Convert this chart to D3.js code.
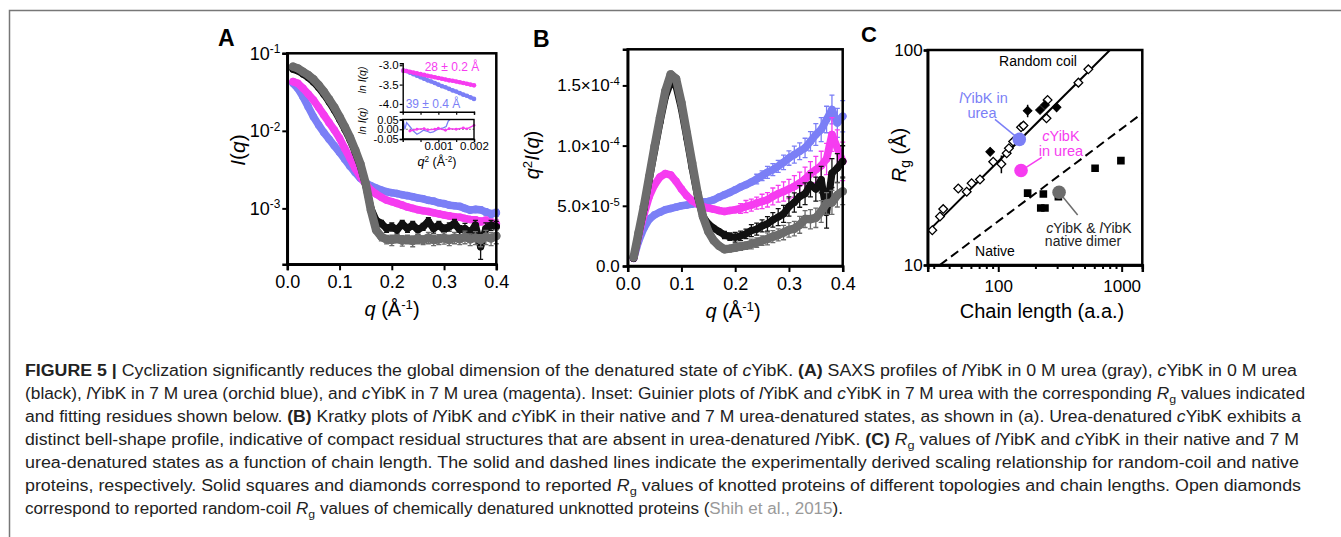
<!DOCTYPE html>
<html><head><meta charset="utf-8">
<script src="https://cdn.jsdelivr.net/npm/d3@7"></script>
<style>
html,body{margin:0;padding:0;background:#fff;}
svg{display:block;}
text{white-space:pre;}
</style></head><body>
<svg id="fig" width="1341" height="537"></svg>
<script>
// ---------------- DATA ----------------
const q = [0.011,0.02,0.03,0.04,0.05,0.06,0.07,0.08,0.09,0.10,
           0.11,0.12,0.13,0.14,0.15,0.16,0.17,0.18,0.19,0.20,
           0.21,0.22,0.23,0.24,0.25,0.26,0.27,0.28,0.29,0.30,
           0.31,0.32,0.33,0.34,0.35,0.36,0.37,0.38,0.39,0.40];

// Panel A: I(q)
const saxsGray = [0.0673,0.0640,0.0579,0.0525,0.0462,0.0390,0.0320,0.0255,0.0201,0.0152,
  0.0113,0.00824,0.00566,0.00373,0.00210,0.00095,0.000525,0.000430,0.000398,0.000390,
  0.000410,0.000385,0.000400,0.000380,0.000410,0.000390,0.000420,0.000390,0.000400,0.000415,
  0.000390,0.000420,0.000400,0.000430,0.000400,0.000420,0.000390,0.000430,0.000410,0.000440];
const saxsBlack = [0.0622,0.0595,0.0540,0.0488,0.0428,0.0362,0.0297,0.0237,0.0186,0.0141,
  0.0105,0.0077,0.0053,0.0035,0.0020,0.00100,0.00070,0.00064,0.00055,0.00058,
  0.00053,0.00063,0.00055,0.00061,0.00053,0.00058,0.00068,0.00055,0.00061,0.00053,
  0.00058,0.00064,0.00053,0.00055,0.00048,0.00061,0.00032,0.00055,0.00061,0.00058];
const saxsBlue = [0.0410,0.0354,0.0276,0.0205,0.0152,0.0119,0.0095,0.0078,0.0064,0.0053,
  0.0043,0.0035,0.0029,0.00244,0.00214,0.00196,0.00183,0.00172,0.00164,0.00159,
  0.00155,0.00150,0.00146,0.00141,0.00136,0.00133,0.00127,0.00124,0.00118,0.00115,
  0.00110,0.00108,0.00106,0.00100,0.00095,0.00097,0.00096,0.00090,0.00085,0.00088];
const saxsMagenta = [0.0431,0.0410,0.0354,0.0299,0.0250,0.0201,0.0160,0.01275,0.01025,0.0080,
  0.00594,0.00442,0.00328,0.00256,0.00206,0.00172,0.00153,0.00139,0.00128,0.00122,
  0.00116,0.00110,0.00104,0.00100,0.00096,0.00093,0.00091,0.00088,0.00085,0.00082,
  0.00080,0.00078,0.00077,0.00074,0.00072,0.00071,0.00068,0.00070,0.00065,0.00063];
const errGrayA = [0,0,0,0,0,0,0,0,0,0, 0,0,0,0,0,0.00003,0.00004,0.00005,0.00005,0.00006,
  0.00005,0.00006,0.00005,0.00006,0.00006,0.00005,0.00007,0.00006,0.00006,0.00007,
  0.00006,0.00007,0.00006,0.00008,0.00007,0.00008,0.00007,0.00009,0.00008,0.00009];
const errBlackA = [0,0,0,0,0,0,0,0,0,0, 0,0,0,0,0,0.00004,0.00005,0.00006,0.00006,0.00007,
  0.00006,0.00007,0.00006,0.00007,0.00007,0.00006,0.00008,0.00007,0.00007,0.00008,
  0.00007,0.00008,0.00007,0.00009,0.00008,0.00009,0.00010,0.00010,0.00009,0.00010];
const errBlueA = [0,0,0,0,0,0,0,0,0,0, 0,0,0,0,0,0,0,0,0,0, 0,0,0,0,0.00003,0.00003,0.00004,0.00004,0.00004,0.00005,
  0.00005,0.00005,0.00006,0.00006,0.00007,0.00007,0.00008,0.00008,0.00009,0.00009];
const errMagentaA = [0,0,0,0,0,0,0,0,0,0, 0,0,0,0,0,0,0,0,0,0, 0,0,0,0,0.00002,0.00003,0.00003,0.00003,0.00004,0.00004,
  0.00004,0.00005,0.00005,0.00005,0.00006,0.00006,0.00007,0.00007,0.00008,0.00008];

// Panel A inset: Guinier (ln I vs q^2) and residuals
const guinierQ2 = [0.00002,0.0001,0.0002,0.0003,0.0004,0.0005,0.0006,0.0007,0.0008,0.0009,0.0010,
                   0.0011,0.0012,0.0013,0.0014,0.0015,0.0016,0.0017,0.0018,0.0019,0.0020];
const guinierBlue = [-3.14,-3.15,-3.19,-3.23,-3.27,-3.31,-3.35,-3.39,-3.42,-3.46,-3.50,
                     -3.54,-3.57,-3.61,-3.65,-3.68,-3.72,-3.76,-3.79,-3.83,-3.87];
const guinierMagenta = [-3.14,-3.15,-3.17,-3.19,-3.21,-3.23,-3.25,-3.27,-3.29,-3.31,-3.33,
                        -3.35,-3.37,-3.39,-3.40,-3.42,-3.44,-3.46,-3.48,-3.50,-3.52];
const residBlueQ2 = [0.00002,0.00006,0.00011,0.0002,0.0003,0.0004,0.00049,0.00058,0.00067,0.00077,
                     0.00086,0.00095,0.00105,0.00114,0.00122,0.00128,0.00133];
const residBlue = [0.043,0.0,0.034,0.014,-0.009,-0.026,-0.017,-0.005,-0.009,-0.017,
                   -0.014,-0.003,0.003,0.007,0.014,0.043,0.055];
const residMagentaQ2 = [0.0002,0.0004,0.0006,0.0007,0.0009,0.0010,0.0012,0.0013,0.0015,0.0017,0.0018,0.0020];
const residMagenta = [-0.009,0.0,0.003,-0.003,0.0,0.005,-0.005,0.003,0.0,0.007,0.002,0.02];

// Panel B: q^2 I(q), in units of 1e-5
const kratkyUnit = 1e-5;
const kratkyGray = [0.72,2.72,4.94,7.44,9.94,12.31,14.53,15.92,15.56,13.56,
  11.06,8.56,6.06,4.11,2.86,2.11,1.67,1.39,1.44,1.53,
  1.61,1.69,1.83,1.94,2.11,2.25,2.44,2.58,2.78,3.00,
  3.10,3.42,3.90,3.89,4.00,4.53,5.20,5.28,5.90,6.20];
const kratkyBlack = [0.64,2.58,4.72,7.17,9.58,11.94,14.06,15.28,14.94,13.06,
  10.64,8.14,5.78,4.11,3.50,3.14,2.86,2.58,2.44,2.39,
  2.50,2.67,2.94,3.06,3.33,3.50,3.83,4.06,4.33,4.94,
  5.28,5.78,6.00,6.75,6.39,7.17,4.44,7.72,8.14,8.69];
const kratkyBlue = [0.64,2.03,3.14,3.89,4.25,4.47,4.67,4.78,4.89,5.00,
  5.06,5.14,5.22,5.31,5.36,5.50,5.72,5.92,6.11,6.33,
  6.56,6.75,6.97,7.22,7.50,7.78,8.00,8.28,8.61,8.97,
  9.25,9.53,9.81,10.36,10.92,11.33,12.17,13.00,11.89,12.44];
const kratkyMagenta = [0.64,2.44,4.25,5.78,6.75,7.39,7.67,7.56,7.03,6.39,
  5.83,5.42,5.14,4.94,4.81,4.72,4.61,4.53,4.61,4.67,
  4.78,4.94,5.06,5.22,5.36,5.50,5.78,6.00,6.19,6.39,
  6.61,6.89,7.22,7.67,8.00,8.33,8.89,10.92,9.81,8.69];
const errGrayB = [0,0,0,0,0,0,0,0,0,0, 0,0,0,0,0,0,0,0,0,0.3,
  0.3,0.3,0.4,0.4,0.4,0.5,0.5,0.5,0.6,0.6, 0.6,0.7,0.7,0.8,0.8,0.9,0.9,1.0,1.0,1.1];
const errBlackB = [0,0,0,0,0,0,0,0,0,0, 0,0,0,0,0,0,0,0.3,0.3,0.4,
  0.4,0.4,0.5,0.5,0.5,0.6,0.6,0.7,0.7,0.8, 0.8,0.9,0.9,1.0,1.0,1.1,1.3,1.2,1.2,1.3];
const errBlueB = [0,0,0,0,0,0,0,0,0,0, 0,0,0,0,0,0,0,0,0,0, 0,0,0,0.4,0.4,0.5,0.5,0.5,0.6,0.6,
  0.7,0.7,0.8,0.8,0.9,1.0,1.1,1.2,1.2,1.3];
const errMagentaB = [0,0,0,0,0,0,0,0,0,0, 0,0,0,0,0,0,0,0,0,0, 0.4,0.5,0.5,0.5,0.6,0.6,0.7,0.7,0.8,0.8,
  0.9,0.9,1.0,1.0,1.1,1.2,1.3,1.4,1.5,1.6];

// Panel C: Rg vs chain length
const coilN  = [29.2,33.7,35.8,47.4,55.5,60.8,71.1,91,106,117,122,132,153,160,246,251,446,537];
const coilRg = [14.5,16.8,18.2,22.7,21.9,24.0,25.0,30.2,29.5,33.1,34.9,37.5,43.7,44.5,48.1,58.5,70.5,81.3];
const coilErr= [0,0,0,0,0,0,0,0,2.8,0,0,0,0,0,0,0,0,0];
const knotDiamondN   = [86,173,218,239,297];
const knotDiamondRg  = [33.6,52.2,52.6,55.5,54.1];
const knotDiamondErr = [1.5,3.5,1.5,1.5,1.5];
const knotSquareN  = [173,232,221,239,307,609,986];
const knotSquareRg = [21.6,21.4,18.4,18.4,20.8,28.2,30.6];
const yibkN  = [148,153,311];
const yibkRg = [38.4,27.5,21.8];
const coilLineN = [27.9,804],  coilLineRg = [14.6,100];
const nativeLineN = [33.6,1470], nativeLineRg = [10,50.8];

// tick values
const qTicks = [0,0.1,0.2,0.3,0.4];
const iTicks = [1e-3,1e-2,1e-1];
const kTicks = [0,5e-5,1e-4,1.5e-4];
const kTickLabels = [["0.0",""],["5.0\u00d710","-5"],["1.0\u00d710","-4"],["1.5\u00d710","-4"]];
const nMajor = [100,1000];
const nMinor = [30,40,50,60,70,80,90,200,300,400,500,600,700,800,900];
const rgTicks = [10,100];

// ---------------- DRAW ----------------
const FONT = "'Liberation Sans', Arial, Helvetica, sans-serif";
const BLUE = "#7b7ff6", MAGENTA = "#f63cf0", GRAY = "#6c6c6c", BLACK = "#111111";
const svg = d3.select("#fig").attr("font-family", FONT);

svg.append("rect").attr("x",9.5).attr("y",10.5).attr("width",1400).attr("height",600)
  .attr("fill","none").attr("stroke","#777").attr("stroke-width",1.5);

function styleAxis(g, fs){
  g.attr("font-family", FONT).attr("font-size", fs);
  g.select(".domain").attr("stroke","#000").attr("stroke-width",2.5);
  g.selectAll(".tick line").attr("stroke","#000").attr("stroke-width",2);
  g.selectAll(".tick text").attr("fill","#000");
}
function sup(sel, base, s){
  sel.text(null);
  sel.append("tspan").text(base);
  if (s) sel.append("tspan").attr("dy","-0.55em").attr("font-size","0.66em").text(s);
}
function drawSeries(g, xs, ys, qs, vs, es, color, r, unit, floor){
  unit = unit || 1;
  const pts = qs.map((d,i)=>({q:d, v:vs[i]*unit, e:(es?es[i]:0)*unit}));
  g.selectAll(null).data(pts.filter(d=>d.e>0)).join("path")
    .attr("d", d=>{
      const x = xs(d.q), y1 = ys(Math.max(d.v-d.e, floor)), y2 = ys(d.v+d.e);
      return `M${x},${y1}V${y2}M${x-2.5},${y1}H${x+2.5}M${x-2.5},${y2}H${x+2.5}`;
    })
    .attr("stroke",color).attr("stroke-width",1.3).attr("fill","none");
  g.append("path").datum(pts)
    .attr("d", d3.line().x(d=>xs(d.q)).y(d=>ys(d.v)))
    .attr("fill","none").attr("stroke",color).attr("stroke-width",r*2)
    .attr("stroke-linejoin","round").attr("stroke-linecap","round");
  g.selectAll(null).data(pts).join("circle")
    .attr("cx",d=>xs(d.q)).attr("cy",d=>ys(d.v)).attr("r",r).attr("fill",color);
}

// ===== Panel A =====
const xA = d3.scaleLinear().domain([0,0.4]).range([287.3,496.3]);
const yA = d3.scaleLog().domain([1.9e-4,0.1]).range([264.3,53.3]);
const gA = svg.append("g");
drawSeries(gA, xA, yA, q, saxsBlue, errBlueA, BLUE, 3.8, 1, 1.9e-4);
drawSeries(gA, xA, yA, q, saxsMagenta, errMagentaA, MAGENTA, 3.8, 1, 1.9e-4);
drawSeries(gA, xA, yA, q, saxsBlack, errBlackA, BLACK, 3.6, 1, 1.9e-4);
drawSeries(gA, xA, yA, q, saxsGray, errGrayA, GRAY, 4.2, 1, 1.9e-4);
gA.append("rect").attr("x",xA.range()[0]).attr("y",yA.range()[1])
  .attr("width",xA.range()[1]-xA.range()[0]).attr("height",yA.range()[0]-yA.range()[1])
  .attr("fill","none").attr("stroke","#000").attr("stroke-width",2.5);
const axA_x = gA.append("g").attr("transform",`translate(0,${yA.range()[0]})`)
  .call(d3.axisBottom(xA).tickValues(qTicks).tickFormat(d3.format(".1f")).tickSize(6).tickPadding(5));
styleAxis(axA_x, 18);
const axA_y = gA.append("g").attr("transform",`translate(${xA.range()[0]},0)`)
  .call(d3.axisLeft(yA).tickValues(iTicks).tickSize(5).tickPadding(2));
styleAxis(axA_y, 18);
axA_y.selectAll(".tick text").each(function(d){ sup(d3.select(this), "10", String(Math.round(Math.log10(d)))); });

// inset
const xI = d3.scaleLinear().domain([0,0.002]).range([402.7,474]);
const yI1 = d3.scaleLinear().domain([-4.2,-2.95]).range([111.7,63.3]);
const yI2 = d3.scaleLinear().domain([-0.05,0.05]).range([139,119.5]);
const gI = svg.append("g");
[[guinierBlue,BLUE],[guinierMagenta,MAGENTA]].forEach(([vals,col])=>{
  gI.append("path").datum(guinierQ2.map((d,i)=>[d,vals[i]]))
    .attr("d",d3.line().x(d=>xI(d[0])).y(d=>yI1(d[1])))
    .attr("fill","none").attr("stroke",col).attr("stroke-width",3.5);
  gI.selectAll(null).data(guinierQ2.map((d,i)=>[d,vals[i]])).join("circle")
    .attr("cx",d=>xI(d[0])).attr("cy",d=>yI1(d[1])).attr("r",2.3).attr("fill",col);
});
const axI_y = gI.append("g").attr("transform",`translate(${xI.range()[0]},0)`)
  .call(d3.axisLeft(yI1).tickValues([-3.0,-3.5,-4.0]).tickFormat(d3.format(".1f")).tickSize(3).tickPadding(1));
styleAxis(axI_y, 11.5);
axI_y.select(".domain").attr("stroke-width",1.4);
axI_y.selectAll(".tick line").attr("stroke-width",1.2);
axI_y.selectAll(".tick text").text(d=>d.toFixed(1));
const axI_x = gI.append("g").attr("transform",`translate(0,${yI1.range()[0]})`)
  .call(d3.axisBottom(xI).tickValues([0.0005,0.001,0.0015,0.002]).tickFormat("").tickSize(3));
styleAxis(axI_x, 11.5);
axI_x.select(".domain").attr("stroke-width",1.4);
axI_x.selectAll(".tick line").attr("stroke-width",1.2);
// residual box
gI.append("line").attr("x1",xI.range()[0]).attr("x2",xI.range()[1]).attr("y1",yI2(0)).attr("y2",yI2(0))
  .attr("stroke","#555").attr("stroke-width",1).attr("stroke-dasharray","1.5,2");
gI.append("path").datum(residBlueQ2.map((d,i)=>[d,residBlue[i]]))
  .attr("d",d3.line().x(d=>xI(d[0])).y(d=>yI2(Math.min(0.05,d[1]))))
  .attr("fill","none").attr("stroke",BLUE).attr("stroke-width",1.3);
gI.append("path").datum(residMagentaQ2.map((d,i)=>[d,residMagenta[i]]))
  .attr("d",d3.line().x(d=>xI(d[0])).y(d=>yI2(d[1])))
  .attr("fill","none").attr("stroke",MAGENTA).attr("stroke-width",1.3);
gI.selectAll(null).data(residMagentaQ2.map((d,i)=>[d,residMagenta[i]])).join("circle")
  .attr("cx",d=>xI(d[0])).attr("cy",d=>yI2(d[1])).attr("r",1.4).attr("fill",MAGENTA);
gI.append("rect").attr("x",xI.range()[0]).attr("y",yI2.range()[1])
  .attr("width",xI.range()[1]-xI.range()[0]).attr("height",yI2.range()[0]-yI2.range()[1])
  .attr("fill","none").attr("stroke","#000").attr("stroke-width",1.4);
const axI2_y = gI.append("g").attr("transform",`translate(${xI.range()[0]},0)`)
  .call(d3.axisLeft(yI2).tickValues([-0.05,0,0.05]).tickSize(3).tickPadding(1));
styleAxis(axI2_y, 11);
axI2_y.select(".domain").attr("stroke-width",1.4);
axI2_y.selectAll(".tick line").attr("stroke-width",1.2);
axI2_y.selectAll(".tick text").text(d=>(d<0?"-":"")+Math.abs(d).toFixed(2));
const axI2_x = gI.append("g").attr("transform",`translate(0,${yI2.range()[0]})`)
  .call(d3.axisBottom(xI).tickValues([0.0005,0.001,0.0015,0.002]).tickSize(3).tickPadding(0)
    .tickFormat(d=> (d===0.001||d===0.002) ? d3.format(".3f")(d) : ""));
styleAxis(axI2_x, 11.5);
axI2_x.select(".domain").attr("stroke-width",1.4);
axI2_x.selectAll(".tick line").attr("stroke-width",1.2);
// inset labels
gI.append("text").attr("x",452).attr("y",71).attr("text-anchor","middle").attr("font-size",12)
  .attr("fill",MAGENTA).text("28 \u00b1 0.2 \u00c5");
gI.append("text").attr("x",433).attr("y",107.5).attr("text-anchor","middle").attr("font-size",12)
  .attr("fill",BLUE).text("39 \u00b1 0.4 \u00c5");
[[80],[121]].forEach(([cy])=>{
  gI.append("text").attr("transform",`translate(366,${cy}) rotate(-90)`).attr("text-anchor","middle")
    .attr("font-size",10.5).attr("font-style","italic").text("ln I(q)");
});
{
  const t = gI.append("text").attr("x",437).attr("y",166).attr("text-anchor","middle").attr("font-size",12.5);
  t.append("tspan").attr("font-style","italic").text("q");
  t.append("tspan").attr("dy","-0.5em").attr("font-size","0.66em").text("2");
  t.append("tspan").attr("dy","0.33em").text(" (\u00c5");
  t.append("tspan").attr("dy","-0.5em").attr("font-size","0.66em").text("-2");
  t.append("tspan").attr("dy","0.33em").text(")");
}
// A labels
svg.append("text").attr("x",218).attr("y",46).attr("font-size",23).attr("font-weight","bold").text("A");
{
  const t = svg.append("text").attr("transform","translate(245,150) rotate(-90)").attr("text-anchor","middle").attr("font-size",21);
  t.append("tspan").attr("font-style","italic").text("I");
  t.append("tspan").text("(");
  t.append("tspan").attr("font-style","italic").text("q");
  t.append("tspan").text(")");
}
function qLabel(x, y){
  const t = svg.append("text").attr("x",x).attr("y",y).attr("text-anchor","middle").attr("font-size",20);
  t.append("tspan").attr("font-style","italic").text("q");
  t.append("tspan").text(" (\u00c5");
  t.append("tspan").attr("dy","-0.55em").attr("font-size","0.66em").text("-1");
  t.append("tspan").attr("dy","0.36em").text(")");
}
qLabel(392, 316);

// ===== Panel B =====
const xB = d3.scaleLinear().domain([0,0.4]).range([627.7,842.7]);
const yB = d3.scaleLinear().domain([0,1.8e-4]).range([266,49.3]);
const gB = svg.append("g");
drawSeries(gB, xB, yB, q, kratkyBlue, errBlueB, BLUE, 3.8, kratkyUnit, 0);
drawSeries(gB, xB, yB, q, kratkyMagenta, errMagentaB, MAGENTA, 3.8, kratkyUnit, 0);
drawSeries(gB, xB, yB, q, kratkyBlack, errBlackB, BLACK, 3.6, kratkyUnit, 0);
drawSeries(gB, xB, yB, q, kratkyGray, errGrayB, GRAY, 4.2, kratkyUnit, 0);
gB.append("rect").attr("x",xB.range()[0]).attr("y",yB.range()[1])
  .attr("width",xB.range()[1]-xB.range()[0]).attr("height",yB.range()[0]-yB.range()[1])
  .attr("fill","none").attr("stroke","#000").attr("stroke-width",2.5);
const axB_x = gB.append("g").attr("transform",`translate(0,${yB.range()[0]})`)
  .call(d3.axisBottom(xB).tickValues(qTicks).tickFormat(d3.format(".1f")).tickSize(6).tickPadding(5));
styleAxis(axB_x, 18);
const axB_y = gB.append("g").attr("transform",`translate(${xB.range()[0]},0)`)
  .call(d3.axisLeft(yB).tickValues(kTicks).tickSize(5).tickPadding(3));
styleAxis(axB_y, 17);
axB_y.selectAll(".tick text").each(function(d,i){ sup(d3.select(this), kTickLabels[i][0], kTickLabels[i][1]); });
svg.append("text").attr("x",533).attr("y",47).attr("font-size",23).attr("font-weight","bold").text("B");
{
  const t = svg.append("text").attr("transform","translate(539,155) rotate(-90)").attr("text-anchor","middle").attr("font-size",20);
  t.append("tspan").attr("font-style","italic").text("q");
  t.append("tspan").attr("dy","-0.55em").attr("font-size","0.66em").text("2");
  t.append("tspan").attr("dy","0.36em").attr("font-style","italic").text("I");
  t.append("tspan").text("(");
  t.append("tspan").attr("font-style","italic").text("q");
  t.append("tspan").text(")");
}
qLabel(733, 318);

// ===== Panel C =====
const xC = d3.scaleLog().domain([26.8,1470]).range([927.7,1142.3]);
const yC = d3.scaleLog().domain([10,100]).range([265,50]);
const gC = svg.append("g");
gC.append("clipPath").attr("id","clipC").append("rect")
  .attr("x",xC.range()[0]).attr("y",yC.range()[1])
  .attr("width",xC.range()[1]-xC.range()[0]).attr("height",yC.range()[0]-yC.range()[1]);
const gCc = gC.append("g").attr("clip-path","url(#clipC)");
gCc.append("path").datum(coilLineN.map((d,i)=>[d,coilLineRg[i]]))
  .attr("d",d3.line().x(d=>xC(d[0])).y(d=>yC(d[1])))
  .attr("stroke","#000").attr("stroke-width",2).attr("fill","none");
gCc.append("path").datum(nativeLineN.map((d,i)=>[d,nativeLineRg[i]]))
  .attr("d",d3.line().x(d=>xC(d[0])).y(d=>yC(d[1])))
  .attr("stroke","#000").attr("stroke-width",2).attr("stroke-dasharray","9,5").attr("fill","none");
// error bars
const ebC = coilN.map((d,i)=>({n:d,rg:coilRg[i],e:coilErr[i]})).filter(d=>d.e>0)
  .concat(knotDiamondN.map((d,i)=>({n:d,rg:knotDiamondRg[i],e:knotDiamondErr[i]})));
gCc.selectAll(null).data(ebC).join("line")
  .attr("x1",d=>xC(d.n)).attr("x2",d=>xC(d.n)).attr("y1",d=>yC(d.rg-d.e)).attr("y2",d=>yC(d.rg+d.e))
  .attr("stroke","#000").attr("stroke-width",1.5);
const sq = d3.symbol(d3.symbolSquare, 38);
gCc.selectAll(null).data(coilN.map((d,i)=>[d,coilRg[i]])).join("path")
  .attr("d",sq).attr("transform",d=>`translate(${xC(d[0])},${yC(d[1])}) rotate(45)`)
  .attr("fill","#fff").attr("stroke","#000").attr("stroke-width",1.3);
gCc.selectAll(null).data(knotDiamondN.map((d,i)=>[d,knotDiamondRg[i]])).join("path")
  .attr("d",sq).attr("transform",d=>`translate(${xC(d[0])},${yC(d[1])}) rotate(45)`)
  .attr("fill","#000").attr("stroke","#000").attr("stroke-width",1);
gCc.selectAll(null).data(knotSquareN.map((d,i)=>[d,knotSquareRg[i]])).join("path")
  .attr("d",d3.symbol(d3.symbolSquare, 58)).attr("transform",d=>`translate(${xC(d[0])},${yC(d[1])})`)
  .attr("fill","#000");
// annotations (positions in data coordinates)
const yibkColors = [BLUE, MAGENTA, GRAY];
const pointerFrom = [[94,47.6],[225,31.7],[440,17.1]];
gC.selectAll(null).data(yibkN.map((d,i)=>i)).join("line")
  .attr("x1",i=>xC(pointerFrom[i][0])).attr("y1",i=>yC(pointerFrom[i][1]))
  .attr("x2",i=>xC(yibkN[i])).attr("y2",i=>yC(yibkRg[i]))
  .attr("stroke",i=>yibkColors[i]).attr("stroke-width",1.5);
gC.selectAll(null).data(yibkN.map((d,i)=>i)).join("circle")
  .attr("cx",i=>xC(yibkN[i])).attr("cy",i=>yC(yibkRg[i])).attr("r",6.8).attr("fill",i=>yibkColors[i]);
gC.append("rect").attr("x",xC.range()[0]).attr("y",yC.range()[1])
  .attr("width",xC.range()[1]-xC.range()[0]).attr("height",yC.range()[0]-yC.range()[1])
  .attr("fill","none").attr("stroke","#000").attr("stroke-width",2.5);
const axC_xm = gC.append("g").attr("transform",`translate(0,${yC.range()[0]})`)
  .call(d3.axisBottom(xC).tickValues(nMinor).tickFormat("").tickSize(4));
styleAxis(axC_xm, 16);
const axC_x = gC.append("g").attr("transform",`translate(0,${yC.range()[0]})`)
  .call(d3.axisBottom(xC).tickValues(nMajor).tickFormat(d3.format("d")).tickSize(7).tickPadding(8));
styleAxis(axC_x, 17);
const axC_y = gC.append("g").attr("transform",`translate(${xC.range()[0]},0)`)
  .call(d3.axisLeft(yC).tickValues(rgTicks).tickFormat(d3.format("d")).tickSize(4).tickPadding(1));
styleAxis(axC_y, 17);

function anno(n, rg, parts, color, fs){
  const t = gC.append("text").attr("x",xC(n)).attr("y",yC(rg)).attr("text-anchor","middle")
    .attr("font-size",fs).attr("fill",color);
  parts.forEach(p=>{ const s=t.append("tspan").text(p[0]); if(p[1]) s.attr("font-style","italic"); });
}
anno(210,84.2,[["Random coil"]],"#000",14);
anno(75.9,56.7,[["l",1],["YibK in"]],BLUE,14.5);
anno(73.8,48.4,[["urea"]],BLUE,14.5);
anno(322,37.8,[["c",1],["YibK"]],MAGENTA,14.5);
anno(322,32.1,[["in urea"]],MAGENTA,14.5);
anno(544,14.1,[["c",1],["YibK & "],["l",1],["YibK"]],"#222",14);
anno(486,12.2,[["native dimer"]],"#222",14);
anno(94,11.0,[["Native"]],"#000",14);

svg.append("text").attr("x",861).attr("y",42).attr("font-size",22).attr("font-weight","bold").text("C");
{
  const t = svg.append("text").attr("transform","translate(906,155) rotate(-90)").attr("text-anchor","middle").attr("font-size",20);
  t.append("tspan").attr("font-style","italic").text("R");
  t.append("tspan").attr("dy","0.3em").attr("font-size","0.7em").text("g");
  t.append("tspan").attr("dy","-0.21em").text(" (\u00c5)");
}
svg.append("text").attr("x",1042).attr("y",318).attr("text-anchor","middle").attr("font-size",20).text("Chain length (a.a.)");

// ===== Caption =====
const captionLines = [
 [["FIGURE 5 | ","b"],["Cyclization significantly reduces the global dimension of the denatured state of "],["c","i"],["YibK. "],["(A)","b"],[" SAXS profiles of "],["l","i"],["YibK in 0 M urea (gray), "],["c","i"],["YibK in 0 M urea"]],
 [["(black), "],["l","i"],["YibK in 7 M urea (orchid blue), and "],["c","i"],["YibK in 7 M urea (magenta). Inset: Guinier plots of "],["l","i"],["YibK and "],["c","i"],["YibK in 7 M urea with the corresponding "],["R","i"],["g","sub"],[" values indicated"]],
 [["and fitting residues shown below. "],["(B)","b"],[" Kratky plots of "],["l","i"],["YibK and "],["c","i"],["YibK in their native and 7 M urea-denatured states, as shown in (a). Urea-denatured "],["c","i"],["YibK exhibits a"]],
 [["distinct bell-shape profile, indicative of compact residual structures that are absent in urea-denatured "],["l","i"],["YibK. "],["(C)","b"],[" "],["R","i"],["g","sub"],[" values of "],["l","i"],["YibK and "],["c","i"],["YibK in their native and 7 M"]],
 [["urea-denatured states as a function of chain length. The solid and dashed lines indicate the experimentally derived scaling relationship for random-coil and native"]],
 [["proteins, respectively. Solid squares and diamonds correspond to reported "],["R","i"],["g","sub"],[" values of knotted proteins of different topologies and chain lengths. Open diamonds"]],
 [["correspond to reported random-coil "],["R","i"],["g","sub"],[" values of chemically denatured unknotted proteins ("],["Shih et al., 2015","gray"],[")."]]
];
const capX = 25, capY0 = 376, capDY = 23;
const capWidths = [1272,1280,1276,1274,1274,1276,818];
captionLines.forEach((segs, li)=>{
  const t = svg.append("text").attr("x",capX).attr("y",capY0+li*capDY)
    .attr("font-size",16).attr("fill","#222");
  let prevSub = false;
  segs.forEach(([txt, st])=>{
    const s = t.append("tspan").text(txt);
    if (st==="b") s.attr("font-weight","bold");
    if (st==="i") s.attr("font-style","italic");
    if (st==="gray") s.attr("fill","#9a9a9a");
    if (st==="sub") { s.attr("dy",4).attr("font-size",11.5); prevSub = true; }
    else if (prevSub) { s.attr("dy",-4); prevSub = false; }
  });
  t.attr("textLength",capWidths[li]).attr("lengthAdjust","spacingAndGlyphs");
});
</script>
</body></html>
